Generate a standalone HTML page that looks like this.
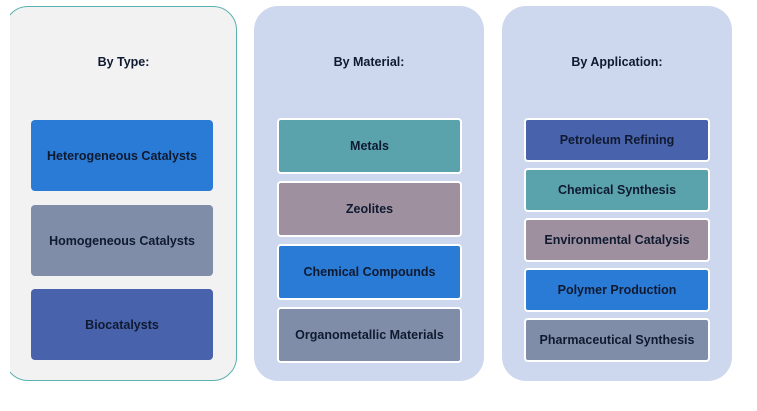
<!DOCTYPE html>
<html><head><meta charset="utf-8"><style>
html,body{margin:0;padding:0;background:#fff;}
body{width:757px;height:411px;position:relative;overflow:hidden;font-family:"Liberation Sans",sans-serif;}
.clip{position:absolute;left:10px;top:0;width:240px;height:411px;overflow:hidden;}
.p{position:absolute;border-radius:24px;box-sizing:border-box;}
.b{position:absolute;box-sizing:border-box;border-radius:4px;display:flex;align-items:center;justify-content:center;font-weight:bold;font-size:12.5px;color:#0f1a30;}
.w{border:2px solid #fff;}
.t{position:absolute;font-weight:bold;font-size:12.5px;color:#0f1a30;text-align:center;}
.blue{background:#2a7bd6}.gray{background:#7f8da8}.ind{background:#4962ac}.teal{background:#5aa3ad}.mauve{background:#9f909f}
</style></head><body>
<div class="clip"><div class="p" style="left:-6px;top:6px;width:233px;height:375px;background:#f2f2f2;border:1px solid #5bb0b0;"></div></div>
<div class="t" style="left:10px;width:227px;top:55px;">By Type:</div>
<div class="b blue" style="left:31px;top:120px;width:182px;height:71px;">Heterogeneous Catalysts</div>
<div class="b gray" style="left:31px;top:205px;width:182px;height:71px;">Homogeneous Catalysts</div>
<div class="b ind" style="left:31px;top:289px;width:182px;height:71px;">Biocatalysts</div>

<div class="p" style="left:254px;top:6px;width:230px;height:375px;background:#cdd8ee;"></div>
<div class="t" style="left:254px;width:230px;top:55px;">By Material:</div>
<div class="b w teal" style="left:277px;top:118px;width:185px;height:56px;">Metals</div>
<div class="b w mauve" style="left:277px;top:181px;width:185px;height:56px;">Zeolites</div>
<div class="b w blue" style="left:277px;top:244px;width:185px;height:56px;">Chemical Compounds</div>
<div class="b w gray" style="left:277px;top:307px;width:185px;height:56px;">Organometallic Materials</div>

<div class="p" style="left:502px;top:6px;width:230px;height:375px;background:#cdd8ee;"></div>
<div class="t" style="left:502px;width:230px;top:55px;">By Application:</div>
<div class="b w ind" style="left:524px;top:118px;width:186px;height:44px;">Petroleum Refining</div>
<div class="b w teal" style="left:524px;top:168px;width:186px;height:44px;">Chemical Synthesis</div>
<div class="b w mauve" style="left:524px;top:218px;width:186px;height:44px;">Environmental Catalysis</div>
<div class="b w blue" style="left:524px;top:268px;width:186px;height:44px;">Polymer Production</div>
<div class="b w gray" style="left:524px;top:318px;width:186px;height:44px;">Pharmaceutical Synthesis</div>
</body></html>
